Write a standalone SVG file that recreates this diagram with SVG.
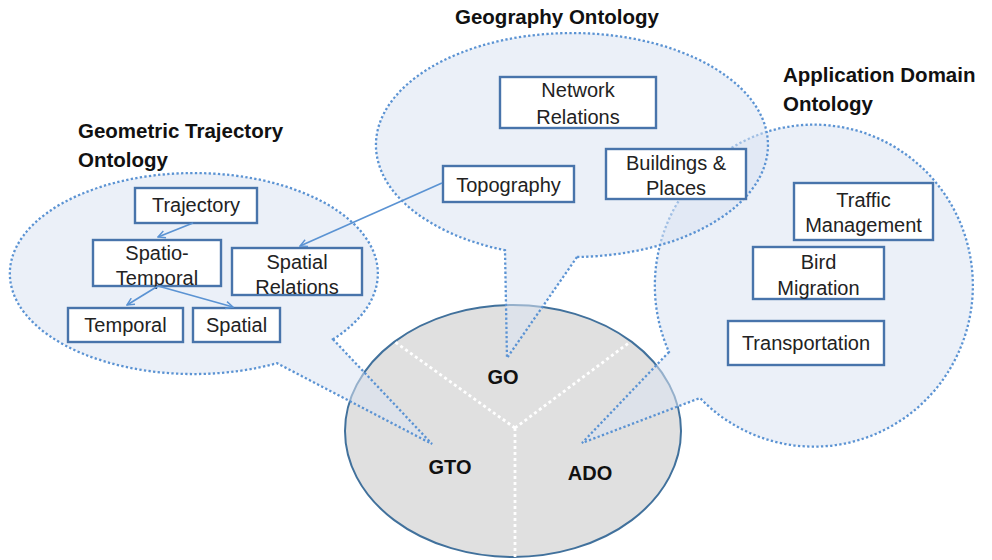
<svg xmlns="http://www.w3.org/2000/svg" width="992" height="560" viewBox="0 0 992 560">
  <defs>
    <style>
      .callout { fill: #dae3f3; fill-opacity: 0.55; stroke: #5b93d3; stroke-width: 2.3; stroke-dasharray: 2.3 2.3; }
      .box { fill: #ffffff; stroke: #4874ab; stroke-width: 2.4; }
      .lbl { font-family: "Liberation Sans", Arial, sans-serif; font-size: 20px; fill: #222222; text-anchor: middle; }
      .title { font-family: "Liberation Sans", Arial, sans-serif; font-size: 20.5px; font-weight: bold; fill: #111111; }
      .core { font-family: "Liberation Sans", Arial, sans-serif; font-size: 20px; font-weight: bold; fill: #111111; text-anchor: middle; }
      .link { stroke: #5b93d3; stroke-width: 1.7; fill: none; marker-end: url(#arrow); }
      .split { stroke: #ffffff; stroke-width: 2.8; stroke-dasharray: 3 3; fill: none; }
    </style>
    <marker id="arrow" viewBox="0 0 10 10" refX="9" refY="5" markerWidth="9" markerHeight="9" markerUnits="userSpaceOnUse" orient="auto">
      <path d="M1,1 L9,5 L1,9" fill="none" stroke="#5b93d3" stroke-width="1.6"/>
    </marker>
  </defs>

  <rect width="992" height="560" fill="#ffffff"/>

  <!-- central ontology ellipse, split into three sectors -->
  <g id="core">
    <ellipse cx="513" cy="431" rx="168" ry="126" fill="#e0e0e0" stroke="#41719c" stroke-width="2"/>
    <path class="split" d="M515,428 L395,342 M515,428 L630,342 M515,428 L515,557"/>
  </g>

  <!-- ontology callouts (ellipse + wedge pointing into the core) -->
  <g id="ado-callout">
    <path class="callout" d="M669,352 L582,443 L700,398 A159 161 0 1 0 669,352 Z"/>
  </g>
  <g id="go-callout">
    <path class="callout" d="M577,257 L507,358 L505,250.3 A196 112 0 1 1 577,257 Z"/>
  </g>
  <g id="gto-callout">
    <path class="callout" d="M333,339.3 L432,444 L277,363.2 A184 100.5 0 1 1 333,339.3 Z"/>
  </g>

  <!-- core labels -->
  <g id="core-labels">
    <text class="core" x="503" y="384">GO</text>
    <text class="core" x="450" y="474">GTO</text>
    <text class="core" x="590" y="480">ADO</text>
  </g>

  <!-- titles -->
  <g id="titles">
    <text class="title" x="455" y="24">Geography Ontology</text>
    <text class="title" x="783" y="82">Application Domain</text>
    <text class="title" x="783" y="111">Ontology</text>
    <text class="title" x="78" y="138">Geometric Trajectory</text>
    <text class="title" x="78" y="167">Ontology</text>
  </g>

  <!-- Geometric Trajectory Ontology nodes -->
  <g id="trajectory">
    <rect class="box" x="135" y="188" width="122" height="35"/>
    <text class="lbl" x="196" y="212">Trajectory</text>
  </g>
  <g id="spatio-temporal">
    <rect class="box" x="93" y="240" width="128" height="46"/>
    <text class="lbl" x="157" y="260">Spatio-</text>
    <text class="lbl" x="157" y="285">Temporal</text>
  </g>
  <g id="spatial-relations">
    <rect class="box" x="232" y="248" width="130" height="47"/>
    <text class="lbl" x="297" y="269">Spatial</text>
    <text class="lbl" x="297" y="294">Relations</text>
  </g>
  <g id="temporal">
    <rect class="box" x="68" y="308" width="115" height="34"/>
    <text class="lbl" x="125.5" y="332">Temporal</text>
  </g>
  <g id="spatial">
    <rect class="box" x="193" y="308" width="87" height="34"/>
    <text class="lbl" x="236.5" y="332">Spatial</text>
  </g>

  <!-- Geography Ontology nodes -->
  <g id="network-relations">
    <rect class="box" x="500" y="77" width="156" height="51"/>
    <text class="lbl" x="578" y="97">Network</text>
    <text class="lbl" x="578" y="124">Relations</text>
  </g>
  <g id="topography">
    <rect class="box" x="443" y="166" width="131" height="36"/>
    <text class="lbl" x="508.5" y="192">Topography</text>
  </g>
  <g id="buildings-places">
    <rect class="box" x="606" y="149" width="140" height="50"/>
    <text class="lbl" x="676" y="170">Buildings &amp;</text>
    <text class="lbl" x="676" y="195">Places</text>
  </g>

  <!-- Application Domain Ontology nodes -->
  <g id="traffic-management">
    <rect class="box" x="794" y="183" width="139" height="57"/>
    <text class="lbl" x="863.5" y="207">Traffic</text>
    <text class="lbl" x="863.5" y="232">Management</text>
  </g>
  <g id="bird-migration">
    <rect class="box" x="753" y="247" width="131" height="52"/>
    <text class="lbl" x="818.5" y="269">Bird</text>
    <text class="lbl" x="818.5" y="295">Migration</text>
  </g>
  <g id="transportation">
    <rect class="box" x="728" y="321" width="156" height="44"/>
    <text class="lbl" x="806" y="350">Transportation</text>
  </g>

  <!-- connectors -->
  <g id="connectors">
    <path class="link" d="M193,223 L158,237"/>
    <path class="link" d="M158,286 L127,305"/>
    <path class="link" d="M158,286 L233,307"/>
    <path class="link" d="M442,183 L300,246"/>
  </g>
</svg>
